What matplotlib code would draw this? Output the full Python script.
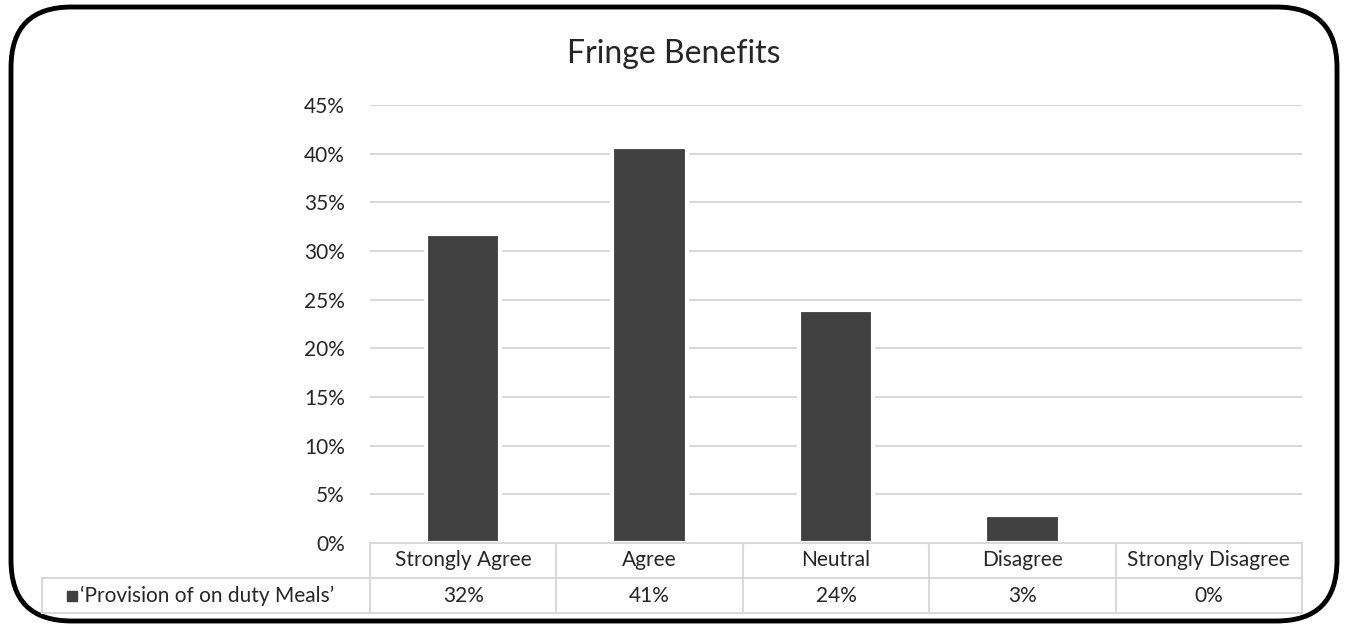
import matplotlib.pyplot as plt
import matplotlib.transforms as mtransforms
from matplotlib.patches import FancyBboxPatch

# Dane wykresu
categories = ["Strongly Agree", "Agree", "Neutral", "Disagree", "Strongly Disagree"]
values = [31.7, 40.7, 23.9, 2.9, 0.0]
table_labels = ["32%", "41%", "24%", "3%", "0%"]
series_name = "\u2018Provision of on duty Meals\u2019"
title = "Fringe Benefits"
y_ticks = [0, 5, 10, 15, 20, 25, 30, 35, 40, 45]

BAR_COLOR = "#404040"
GRID_COLOR = "#d9d9d9"
TEXT_COLOR = "#262626"

plt.rcParams['font.family'] = ['Lato', 'DejaVu Sans']

W, H = 1348, 628
fig = plt.figure(figsize=(W / 100, H / 100), dpi=100)

# Obszar wykresu (w pikselach przeliczonych na ułamki figury)
left, right, top, bottom = 370, 1302, 105, 543
ax = fig.add_axes([left / W, 1 - bottom / H, (right - left) / W, (bottom - top) / H])

x = list(range(len(categories)))
ax.bar(x, values, width=0.4, color=BAR_COLOR, edgecolor="white", linewidth=3, zorder=3)

ax.set_xlim(-0.5, len(categories) - 0.5)
ax.set_ylim(0, 45)
ax.set_yticks(y_ticks)
ax.set_yticklabels([f"{t}%" for t in y_ticks], fontsize=15, color=TEXT_COLOR)
ax.set_xticks([])
ax.tick_params(axis='y', length=0, pad=18)
ax.yaxis.grid(True, color=GRID_COLOR, linewidth=1.5, zorder=0)
ax.set_axisbelow(True)
for s in ax.spines.values():
    s.set_visible(False)

# Tabela danych pod wykresem
trans = mtransforms.blended_transform_factory(ax.transData, fig.transFigure)
ftrans = fig.transFigure
row1_top = 1 - 543 / H
row1_bot = 1 - 578 / H
row2_bot = 1 - 613 / H
lw = 1.5

for i in range(len(categories) + 1):
    xb = -0.5 + i
    fig.add_artist(plt.Line2D([xb, xb], [row1_top, row2_bot], transform=trans,
                              color=GRID_COLOR, linewidth=lw))
for yy in [row1_top, row1_bot, row2_bot]:
    x0 = left / W if yy == row1_top else 42 / W
    fig.add_artist(plt.Line2D([x0, right / W], [yy, yy], transform=ftrans,
                              color=GRID_COLOR, linewidth=lw))
fig.add_artist(plt.Line2D([42 / W, 42 / W], [row1_bot, row2_bot], transform=ftrans,
                          color=GRID_COLOR, linewidth=lw))

for i, (cat, lab) in enumerate(zip(categories, table_labels)):
    fig.text(i, (row1_top + row1_bot) / 2, cat, transform=trans, ha="center",
             va="center", fontsize=15, color=TEXT_COLOR)
    fig.text(i, (row1_bot + row2_bot) / 2, lab, transform=trans, ha="center",
             va="center", fontsize=15, color=TEXT_COLOR)

# Legenda w pierwszej kolumnie tabeli
ymid = (row1_bot + row2_bot) / 2
fig.add_artist(plt.Line2D([72 / W], [ymid], transform=ftrans, marker="s",
                          markersize=7, color=BAR_COLOR, linestyle="none"))
fig.text(80 / W, ymid, series_name, ha="left", va="center", fontsize=15,
         color=TEXT_COLOR)

# Tytuł
fig.text(0.5, 1 - 54 / H, title, ha="center", va="center", fontsize=23,
         color=TEXT_COLOR)

# Zaokrąglona ramka
frame = FancyBboxPatch((11 / W, 7 / H), (W - 22) / W, (H - 14) / H,
                       boxstyle="round,pad=0,rounding_size=0.045",
                       transform=ftrans, fill=False, edgecolor="black",
                       linewidth=3.5, mutation_aspect=W / H)
fig.add_artist(frame)

fig.savefig("out.png", dpi=100)
